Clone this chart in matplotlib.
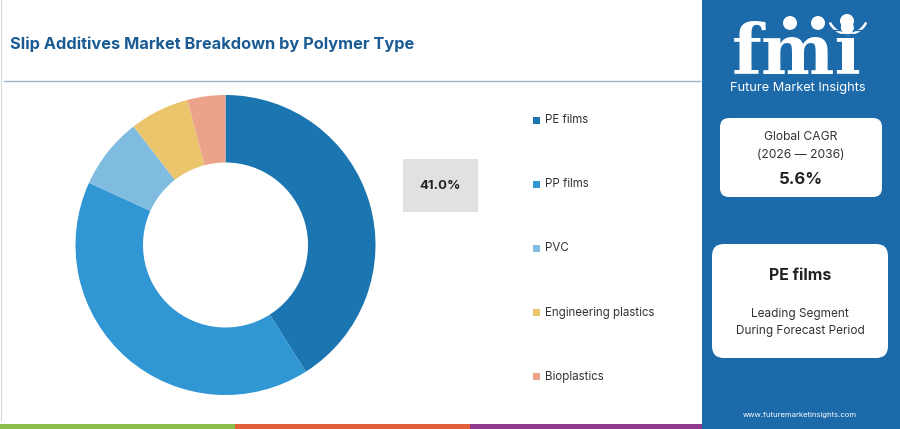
import matplotlib
matplotlib.use("Agg")
import matplotlib.pyplot as plt
from matplotlib.patches import Rectangle, FancyBboxPatch, Circle, Arc

# chart data
segments = ["PE films", "PP films", "PVC", "Engineering plastics", "Bioplastics"]
shares = [41.0, 40.8, 7.7, 6.4, 4.1]
colors = ["#1b75b0", "#3196d4", "#80bbe0", "#ebc56b", "#eba38a"]

title = "Slip Additives Market Breakdown by Polymer Type"
highlight_label = "41.0%"
cagr_period = "(2026 \u2014 2036)"
cagr_value = "5.6%"
leading_segment = "PE films"

W, H = 900, 429
PANEL = "#1c6aa9"

plt.rcParams["font.family"] = ["Inter", "DejaVu Sans"]

fig = plt.figure(figsize=(W / 100, H / 100), dpi=100)
fig.patch.set_facecolor("white")

# background axes in pixel coordinates
bg = fig.add_axes([0, 0, 1, 1])
bg.set_xlim(0, W)
bg.set_ylim(H, 0)
bg.axis("off")

# left panel border + title rule
bg.plot([1, 1], [0, 420], color="#d8d8d8", lw=0.8)
bg.plot([4, 700], [81, 81], color="#9bb4cb", lw=1.0)
bg.text(10, 44, title, fontsize=11.8, fontweight="bold", color="#1a5b94",
        va="center", ha="left")

# bottom colour stripe
for x0, c in zip([0, 235, 470], ["#8cbd4b", "#e2603a", "#8d3a8f"]):
    bg.add_patch(Rectangle((x0, 424), 235, 6, color=c, lw=0))

# right blue panel
bg.add_patch(Rectangle((702, 0), W - 702, H, color=PANEL, lw=0))

# logo
bg.text(797, 74, "fmi", fontsize=50, fontweight="bold", family="DejaVu Serif",
        color="white", ha="center", va="baseline")
y = 30
while y < 76:
    bg.plot([725, 875], [y, y], color=PANEL, lw=0.9)
    y += 4.2
for gx, gy in [(790, 23), (818, 23), (847, 21)]:
    bg.add_patch(Circle((gx, gy), 8.5, color=PANEL, lw=0))
    bg.add_patch(Circle((gx, gy), 7, color="white", lw=0))
bg.add_patch(Arc((848, 14), 40, 40, theta1=25, theta2=155, color="white", lw=1.8))
bg.text(798, 88, "Future Market Insights", fontsize=9.2, color="white",
        ha="center", va="center")

# CAGR card
bg.add_patch(FancyBboxPatch((720, 118), 162, 79, boxstyle="round,pad=0,rounding_size=9",
                            fc="white", ec="none"))
bg.text(801, 137, "Global CAGR", fontsize=8.7, color="#333333", ha="center", va="center")
bg.text(801, 155, cagr_period, fontsize=8.7, color="#333333", ha="center", va="center")
bg.text(801, 180, cagr_value, fontsize=12, fontweight="bold", color="#222222",
        ha="center", va="center")

# leading segment card
bg.add_patch(FancyBboxPatch((712, 244), 176, 114, boxstyle="round,pad=0,rounding_size=12",
                            fc="white", ec="none"))
bg.text(800, 276, leading_segment, fontsize=11.5, fontweight="bold", color="#222222",
        ha="center", va="center")
bg.text(800, 314, "Leading Segment", fontsize=8.5, color="#333333", ha="center", va="center")
bg.text(800, 331, "During Forecast Period", fontsize=8.5, color="#333333",
        ha="center", va="center")

bg.text(800, 415, "www.futuremarketinsights.com", fontsize=5.5, color="white",
        ha="center", va="center")

# highlight box
bg.add_patch(Rectangle((403, 159), 75, 53, color="#e1e1e1", lw=0))
bg.text(440.5, 186, highlight_label, fontsize=9.5, fontweight="bold", color="#222222",
        ha="center", va="center")

# legend
for i, (name, c) in enumerate(zip(segments, colors)):
    ly = 120 + i * 64.2
    bg.add_patch(Rectangle((533, ly - 3.5), 7, 7, color=c, lw=0))
    bg.text(545, ly, name, fontsize=8.3, color="#333333", ha="left", va="center")

# donut
cx, cy, r = 225.5, 245, 150
ax = fig.add_axes([(cx - r) / W, (H - cy - r) / H, 2 * r / W, 2 * r / H])
ax.pie(shares, colors=colors, startangle=90, counterclock=False, radius=1,
       wedgeprops=dict(width=0.45, edgecolor="none"))
ax.set_xlim(-1, 1)
ax.set_ylim(-1, 1)
ax.set_aspect("equal")
ax.axis("off")

fig.savefig("out.png", dpi=100)
